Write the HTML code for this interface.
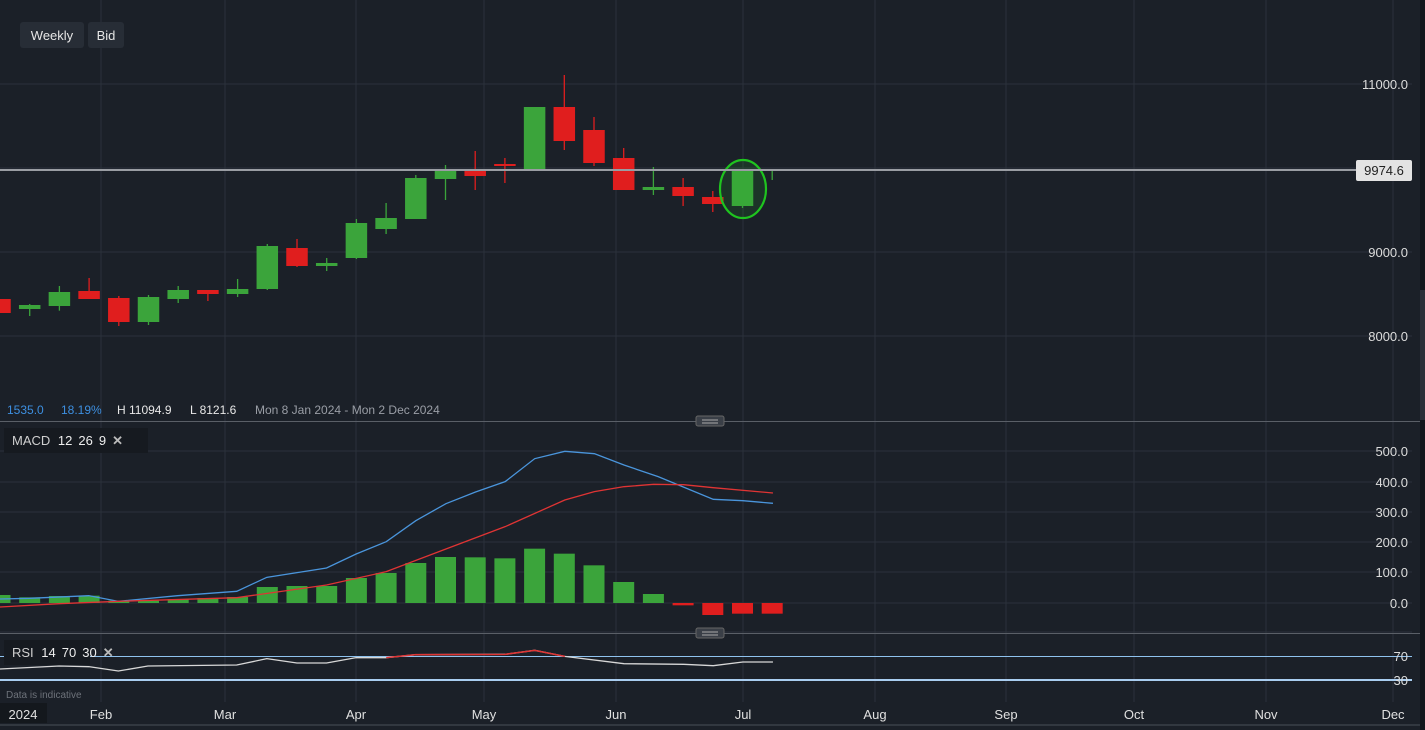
<!DOCTYPE html>
<html><head><meta charset="utf-8"><style>
html,body{margin:0;padding:0;background:#1b2028;width:1425px;height:730px;overflow:hidden;font-family:"Liberation Sans",sans-serif}
svg{display:block}
text{font-family:"Liberation Sans",sans-serif}
</style></head><body>
<svg id="s" width="1425" height="730" viewBox="0 0 1425 730" xmlns="http://www.w3.org/2000/svg">
<rect width="1425" height="730" fill="#1b2028"/>
<g id="grid" stroke="#2b313b" stroke-width="1"></g>
<g id="main"></g>
<!-- top buttons -->
<rect x="20" y="22" width="64" height="26" rx="3" fill="#272d36"/>
<text x="52" y="40" fill="#e6e6e6" font-size="13" text-anchor="middle">Weekly</text>
<rect x="88" y="22" width="36" height="26" rx="3" fill="#272d36"/>
<text x="106" y="40" fill="#e6e6e6" font-size="13" text-anchor="middle">Bid</text>
<!-- price axis labels -->
<g fill="#dcdcdc" font-size="13" text-anchor="end">
<text x="1408" y="89">11000.0</text>
<text x="1408" y="257">9000.0</text>
<text x="1408" y="341">8000.0</text>
</g>
<line x1="0" y1="170" x2="1356" y2="170" stroke="#9a9da3" stroke-width="2"/>
<rect x="1356" y="160" width="56" height="21" rx="2" fill="#e3e3e3"/>
<text x="1384" y="175" fill="#222" font-size="13" text-anchor="middle">9974.6</text>
<!-- info line -->
<text y="414" font-size="12"><tspan x="7" fill="#3d8fe0">1535.0</tspan><tspan x="61" fill="#3d8fe0">18.19%</tspan><tspan x="117" fill="#e8e8e8">H 11094.9</tspan><tspan x="190" fill="#e8e8e8">L 8121.6</tspan><tspan x="255" fill="#9a9ea6">Mon 8 Jan 2024 - Mon 2 Dec 2024</tspan></text>
<!-- separators -->
<line x1="0" y1="421.5" x2="1425" y2="421.5" stroke="#5a5f67"/>
<rect x="696" y="416" width="28" height="10" rx="2" fill="#3a3f47" stroke="#666"/>
<line x1="702" y1="420" x2="718" y2="420" stroke="#aaa"/><line x1="702" y1="423" x2="718" y2="423" stroke="#aaa"/>
<line x1="0" y1="633.5" x2="1425" y2="633.5" stroke="#5a5f67"/>
<rect x="696" y="628" width="28" height="10" rx="2" fill="#3a3f47" stroke="#666"/>
<line x1="702" y1="632" x2="718" y2="632" stroke="#aaa"/><line x1="702" y1="635" x2="718" y2="635" stroke="#aaa"/>
<!-- MACD label -->
<rect x="4" y="428" width="144" height="25" fill="#161a20"/>
<text x="12" y="445" fill="#d0d0d0" font-size="13">MACD <tspan dx="4" fill="#eee">12</tspan><tspan dx="6" fill="#eee">26</tspan><tspan dx="6" fill="#eee">9</tspan><tspan dx="6" fill="#bbb" font-weight="bold">✕</tspan></text>
<g fill="#dcdcdc" font-size="13" text-anchor="end">
<text x="1408" y="456">500.0</text><text x="1408" y="487">400.0</text><text x="1408" y="517">300.0</text>
<text x="1408" y="547">200.0</text><text x="1408" y="577">100.0</text><text x="1408" y="608">0.0</text>
</g>
<g id="macd"></g>
<!-- RSI -->
<line x1="0" y1="656.5" x2="1412" y2="656.5" stroke="#8fc2ee" stroke-width="1"/>
<line x1="0" y1="680" x2="1412" y2="680" stroke="#a9cdf0" stroke-width="2"/>
<g id="rsi"></g>
<rect x="4" y="640" width="86" height="25" fill="#161a20"/>
<text x="12" y="657" fill="#d0d0d0" font-size="13">RSI <tspan dx="4" fill="#eee">14</tspan><tspan dx="6" fill="#eee">70</tspan><tspan dx="6" fill="#eee">30</tspan><tspan dx="6" fill="#bbb" font-weight="bold">✕</tspan></text>
<g fill="#dcdcdc" font-size="13" text-anchor="end">
<text x="1408" y="661">70</text><text x="1408" y="685">30</text>
</g>
<text x="6" y="698" fill="#6d727a" font-size="10">Data is indicative</text>
<!-- x axis -->
<line x1="0" y1="725" x2="1425" y2="725" stroke="#4a4f57"/>
<rect x="0" y="703" width="47" height="20" fill="#14181d"/>
<g fill="#e0e0e0" font-size="13" text-anchor="middle">
<text x="23" y="719">2024</text><text x="101" y="719">Feb</text><text x="225" y="719">Mar</text>
<text x="356" y="719">Apr</text><text x="484" y="719">May</text><text x="616" y="719">Jun</text>
<text x="743" y="719">Jul</text><text x="875" y="719">Aug</text><text x="1006" y="719">Sep</text>
<text x="1134" y="719">Oct</text><text x="1266" y="719">Nov</text><text x="1393" y="719">Dec</text>
</g>
<rect x="1420" y="0" width="5" height="730" fill="#12161b"/>
<rect x="1420" y="290" width="5" height="130" fill="#2a3038"/>
</svg>
<script>
const NS="http://www.w3.org/2000/svg";
function el(p,t,a){const e=document.createElementNS(NS,t);for(const k in a)e.setAttribute(k,a[k]);document.getElementById(p).appendChild(e);return e;}
// grid
[101,225,356,484,616,743,875,1006,1134,1266,1393].forEach(x=>el('grid','line',{x1:x,y1:0,x2:x,y2:702}));
[84,168,252,336,451,482,512,542,572,603,632].forEach(y=>el('grid','line',{x1:0,y1:y,x2:1412,y2:y}));
const G="#3ba43b",R="#e01e1e";
const X=i=>29.7*i;
const Y=z=>60+z/3;
const c=[[R,717,759,717,759],[G,735,747,732,768],[G,696,738,678,752],[R,693,717,654,717],[R,714,786,708,798],[G,711,786,705,795],[G,690,717,678,729],[R,690,702,690,723],[G,687,702,657,711],[G,558,687,552,690],[R,564,618,537,621],[G,609,618,594,633],[G,489,594,477,597],[G,474,507,429,522],[G,354,477,345,477],[G,333,357,315,420],[R,327,348,273,390],[R,312,318,294,369],[G,141,327,141,330],[R,141,243,45,270],[R,210,309,171,318],[R,294,390,264,390],[G,381,390,321,405],[R,381,408,354,438],[R,411,432,393,456],[G,330,438,327,444],[G,327,332,327,360]];
c.forEach((d,i)=>{const x=X(i);
el('main','line',{x1:x,y1:Y(d[3]),x2:x,y2:Y(d[4]),stroke:d[0],'stroke-width':1.3});
el('main','rect',{x:x-10.75,y:Y(d[1]),width:21.5,height:Math.max(2,Y(d[2])-Y(d[1])),fill:d[0]});});
el('main','ellipse',{cx:743,cy:189,rx:23,ry:29,fill:'rgba(40,200,40,0.12)',stroke:'#1fc41f','stroke-width':2.2});
// MACD
const M=z=>390+z/3;
const h=[615,622,618,617,632,632,627,624,621,591,588,588,564,549,519,501,502,505,476,491,526,576,612,646,675,671,671];
h.forEach((z,i)=>{const x=X(i);const neg=i>=23;const y1=M(639);const y2=M(z);
el('macd','rect',{x:x-10.5,y:Math.min(y1,y2),width:21,height:Math.max(1.5,Math.abs(y2-y1)),fill:neg?R:G});});
const zx=v=>v/1.96;
const pl=(pts,col,f)=>el('macd','polyline',{points:pts.map(p=>zx(p[0])+','+f(p[1])).join(' '),fill:'none',stroke:col,'stroke-width':1.3});
pl([[0,627],[58,625],[174,617],[232,634],[348,617],[464,604],[523,562],[640,534],[698,492],[757,455],[815,392],[874,341],[932,306],[990,275],[1048,206],[1107,184],[1165,191],[1223,225],[1290,260],[1398,328],[1456,332],[1515,340]],'#4a95dc',M);
pl([[0,651],[116,641],[232,634],[464,623],[640,585],[757,545],[874,477],[990,410],[1107,330],[1165,305],[1223,290],[1281,283],[1340,284],[1398,293],[1515,309]],'#e03434',M);
// RSI
const rs=[[0,837],[116,828],[174,830],[232,843],[290,828],[464,825],[523,806],[582,819],[640,819],[698,803],[757,803],[815,794],[990,793],[1048,781],[1107,799],[1223,821],[1340,823],[1398,827],[1456,816],[1515,816]];
el('rsi','polyline',{points:rs.map(p=>zx(p[0])+','+M(p[1])).join(' '),fill:'none',stroke:'#d8d8d8','stroke-width':1.3});
el('rsi','polyline',{points:[[757,803],[815,794],[990,793],[1048,781],[1107,799]].map(p=>zx(p[0])+','+M(p[1])).join(' '),fill:'none',stroke:'#e03434','stroke-width':1.5});
</script>
</body></html>
